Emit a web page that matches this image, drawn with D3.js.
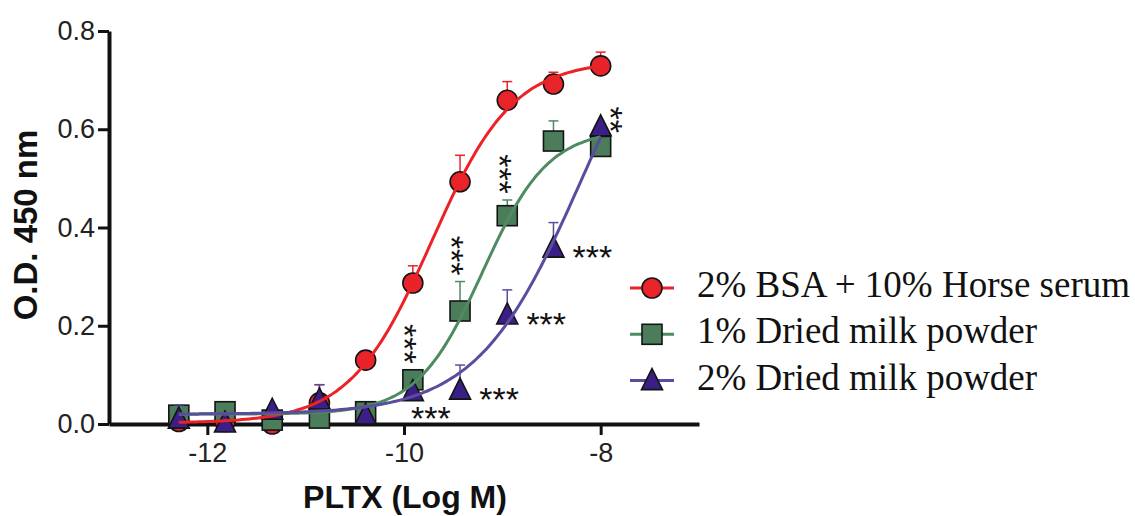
<!DOCTYPE html>
<html lang="en">
<head>
  <meta charset="utf-8">
  <title>PLTX dose response</title>
  <script src="https://d3js.org/d3.v7.min.js"></script>
  <style>
    body { margin: 0; background: #fff; }
    .axis path, .axis line { stroke: #111; }
    .axis text { font-family: "Liberation Sans", Arial, sans-serif; fill: #222; }
  </style>
</head>
<body>
<script>
  // log concentrations (3-fold dilutions)
  var logDose = [-12.29, -11.82, -11.34, -10.86, -10.39, -9.91, -9.43, -8.95, -8.48, -8.00];

  var bsaMean   = [0.005, 0.005, 0.000, 0.043, 0.130, 0.287, 0.493, 0.659, 0.692, 0.729];
  var bsaErr    = [0.000, 0.000, 0.000, 0.037, 0.005, 0.035, 0.054, 0.038, 0.024, 0.028];
  var milk1Mean = [0.018, 0.025, 0.008, 0.012, 0.025, 0.090, 0.230, 0.424, 0.576, 0.565];
  var milk1Err  = [0.005, 0.020, 0.005, 0.005, 0.005, 0.020, 0.060, 0.032, 0.041, 0.005];
  var milk2Mean = [0.010, 0.002, 0.028, 0.049, 0.018, 0.066, 0.069, 0.222, 0.358, 0.605];
  var milk2Err  = [0.029, 0.005, 0.005, 0.031, 0.005, 0.008, 0.051, 0.051, 0.052, 0.005];

  // significance marks vs BSA
  var milk1Sig = ["", "", "", "", "", "***", "***", "***", "", ""];
  var milk2Sig = ["", "", "", "", "", "***", "***", "***", "***", "**"];

  // fitted 4PL: bottom, top, logEC50, hill
  var bsaFit   = [0.002, 0.74, -9.72, 1.05];
  var milk1Fit = [0.02, 0.60, -9.20, 1.30];
  var milk2Fit = [0.02, 0.97, -8.20, 0.82];

  var seriesNames = ["2% BSA + 10% Horse serum", "1% Dried milk powder", "2% Dried milk powder"];
  var xTicks = [-12, -10, -8];
  var yTicks = [0, 0.2, 0.4, 0.6, 0.8];

  var series = [
    { name: seriesNames[0], mean: bsaMean, err: bsaErr, fit: bsaFit, sig: null,
      shape: "circle", fill: "#e8242a", line: "#ec2227" },
    { name: seriesNames[1], mean: milk1Mean, err: milk1Err, fit: milk1Fit, sig: milk1Sig,
      shape: "square", fill: "#4b7d5a", line: "#4f8b61" },
    { name: seriesNames[2], mean: milk2Mean, err: milk2Err, fit: milk2Fit, sig: milk2Sig,
      shape: "triangle", fill: "#3b1f87", line: "#5b4d9e" }
  ];

  var width = 1135, height = 516;

  var x = d3.scaleLinear().domain([-13, -7]).range([109, 699]);
  var y = d3.scaleLinear().domain([0, 0.8]).range([424, 31]);

  var svg = d3.select("body").append("svg")
    .attr("width", width)
    .attr("height", height);

  // axes
  var xAxis = svg.append("g")
    .attr("class", "axis")
    .attr("transform", "translate(0," + y(0) + ")")
    .call(d3.axisBottom(x).tickValues(xTicks).tickFormat(function(d) { return String(d); })
      .tickSize(11).tickSizeOuter(0).tickPadding(8));
  xAxis.select(".domain").attr("stroke-width", 4);
  xAxis.selectAll(".tick line").attr("stroke-width", 3);
  xAxis.selectAll("text").attr("font-size", 27);

  var yAxis = svg.append("g")
    .attr("class", "axis")
    .attr("transform", "translate(" + x(-13) + ",0)")
    .call(d3.axisLeft(y).tickValues(yTicks).tickFormat(d3.format(".1f"))
      .tickSize(11).tickSizeOuter(0).tickPadding(3));
  yAxis.select(".domain").attr("stroke-width", 4);
  yAxis.selectAll(".tick line").attr("stroke-width", 3);
  yAxis.selectAll("text").attr("font-size", 27);

  svg.append("text")
    .attr("transform", "translate(37," + 225 + ") rotate(-90)")
    .attr("text-anchor", "middle")
    .attr("font-family", "Liberation Sans, Arial, sans-serif")
    .attr("font-weight", "bold")
    .attr("font-size", 33)
    .attr("fill", "#111")
    .text("O.D. 450 nm");

  svg.append("text")
    .attr("x", 405)
    .attr("y", 508)
    .attr("text-anchor", "middle")
    .attr("font-family", "Liberation Sans, Arial, sans-serif")
    .attr("font-weight", "bold")
    .attr("font-size", 32)
    .attr("fill", "#111")
    .text("PLTX (Log M)");

  function logistic(p, v) {
    return p[0] + (p[1] - p[0]) / (1 + Math.pow(10, (p[2] - v) * p[3]));
  }

  function marker(sel, shape) {
    if (shape === "circle") {
      sel.append("circle").attr("r", 10);
    } else if (shape === "square") {
      sel.append("rect").attr("x", -10).attr("y", -10).attr("width", 20).attr("height", 20);
    } else {
      sel.append("path").attr("d", "M0,-12L10.5,9L-10.5,9Z");
    }
  }

  // error bars + markers
  series.forEach(function(s) {
    var g = svg.append("g");
    var pts = logDose.map(function(d, i) { return { x: d, m: s.mean[i], e: s.err[i] }; });

    var eb = g.selectAll(".eb").data(pts.filter(function(p) { return p.e > 0; }))
      .enter().append("g")
      .attr("stroke", s.line)
      .attr("stroke-width", 1.5);
    eb.append("line")
      .attr("x1", function(p) { return x(p.x); })
      .attr("x2", function(p) { return x(p.x); })
      .attr("y1", function(p) { return y(p.m); })
      .attr("y2", function(p) { return y(p.m + p.e); });
    eb.append("line")
      .attr("x1", function(p) { return x(p.x) - 5; })
      .attr("x2", function(p) { return x(p.x) + 5; })
      .attr("y1", function(p) { return y(p.m + p.e); })
      .attr("y2", function(p) { return y(p.m + p.e); });

    var mk = g.selectAll(".mk").data(pts).enter().append("g")
      .attr("transform", function(p) { return "translate(" + x(p.x) + "," + y(p.m) + ")"; })
      .attr("fill", s.fill)
      .attr("stroke", "#141414")
      .attr("stroke-width", 1.6);
    marker(mk, s.shape);
  });

  // fitted curves
  var line = d3.line()
    .x(function(v) { return x(v); })
    .curve(d3.curveBasis);
  var steps = d3.range(0, 121).map(function(i) {
    return logDose[0] + (logDose[logDose.length - 1] - logDose[0]) * i / 120;
  });
  series.forEach(function(s) {
    svg.append("path")
      .datum(steps)
      .attr("fill", "none")
      .attr("stroke", s.line)
      .attr("stroke-width", 3)
      .attr("d", line.y(function(v) { return y(logistic(s.fit, v)); }));
  });

  // significance labels
  var starSize = 34;
  function stars(tx, ty, label, vertical) {
    // tx, ty: visual centre of the asterisk glyphs
    var t = svg.append("text")
      .attr("font-family", "Liberation Sans, Arial, sans-serif")
      .attr("font-size", starSize)
      .attr("fill", "#111")
      .attr("text-anchor", "middle")
      .text(label);
    if (vertical) {
      t.attr("transform", "translate(" + (tx - 0.58 * starSize) + "," + ty + ") rotate(90)");
    } else {
      t.attr("x", tx).attr("y", ty + 0.58 * starSize);
    }
  }

  series.forEach(function(s) {
    if (!s.sig) return;
    s.sig.forEach(function(lab, i) {
      if (!lab) return;
      var px = x(logDose[i]), py = y(s.mean[i]);
      if (s.shape === "square") {
        stars(px, y(s.mean[i] + s.err[i]) - 26, lab, true);
      } else if (i === logDose.length - 1) {
        stars(px + 18, py - 7, lab, true);
      } else if (i === 5) {
        stars(px + 18, py + 19, lab, false);
      } else {
        stars(px + 39, py + 1, lab, false);
      }
    });
  });

  // legend
  var legend = svg.append("g").attr("transform", "translate(630,288)");
  series.forEach(function(s, i) {
    var row = legend.append("g").attr("transform", "translate(0," + (i * 46.3) + ")");
    row.append("line")
      .attr("x1", 0).attr("x2", 44)
      .attr("stroke", s.line).attr("stroke-width", 3);
    var mk = row.append("g")
      .attr("transform", "translate(22,0)")
      .attr("fill", s.fill)
      .attr("stroke", "#141414")
      .attr("stroke-width", 1.6);
    marker(mk, s.shape);
    row.append("text")
      .attr("x", 67)
      .attr("y", 9)
      .attr("font-family", "Liberation Serif, Times New Roman, serif")
      .attr("font-size", 37)
      .attr("fill", "#111")
      .text(s.name);
  });
</script>
</body>
</html>
